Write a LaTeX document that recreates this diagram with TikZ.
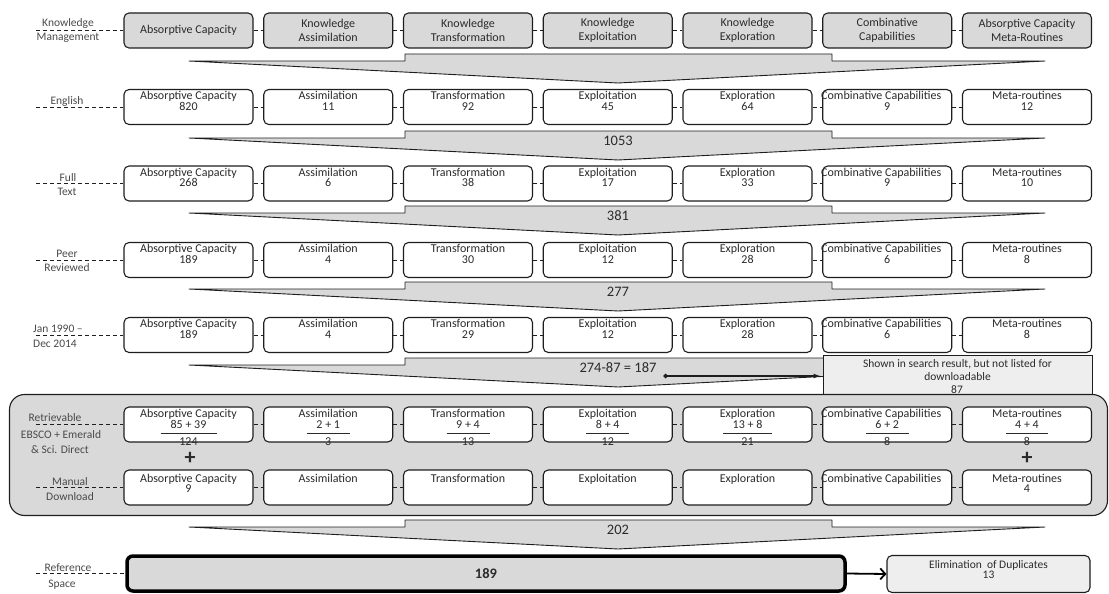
\documentclass[tikz,border=0pt]{standalone}
\usepackage{fontspec}
\setmainfont{Carlito}
\usetikzlibrary{arrows.meta}

\definecolor{boxgray}{HTML}{D9D9D9}
\definecolor{notegray}{HTML}{EEEEEE}
\definecolor{ink}{HTML}{2B2B2B}
\definecolor{sideink}{HTML}{4A4A4A}
\definecolor{edge}{HTML}{1E1E1E}

% one row of stage boxes: #1 row id, #2 centre y, #3 extra text style, #4 title/count list
\newcommand{\stagerow}[4]{%
  \foreach \ttl/\cnt [count=\i, evaluate=\i as \cx using 188.5+139.75*(\i-1)] in {#4} {
    \node[stagebox] (b#1\i) at (\cx,#2) {};
    \node[boxtext,#3] (t#1\i) at (b#1\i.north) {\ttl\\\cnt};
  }
}
% grey funnel band between two rows: #1 name, #2 wing level, #3 count
\newcommand{\funnelband}[3]{%
  \draw[funnel] (189,#2) -- (405,#2) -- (405,{#2-7}) -- (832,{#2-7}) -- (832,#2)
    -- (1045,#2) -- (618,{#2+22}) -- cycle;
  \node[count] (#1) at (618,{#2+3}) {#3};
}

\begin{document}
\begin{tikzpicture}[x=1pt,y=-1pt,
  every node/.style={text=ink},
  stagebox/.style={draw=edge, line width=1.1pt, rounded corners=5pt,
    minimum width=129pt, minimum height=35pt, inner sep=0pt, fill=white},
  headbox/.style={stagebox, fill=boxgray, align=center,
    font=\fontsize{12}{14}\selectfont},
  boxtext/.style={anchor=north, inner sep=0pt, align=center,
    font=\fontsize{12}{10.5}\selectfont, yshift=-2.5pt},
  link/.style={draw=edge, line width=0.8pt, dash pattern=on 4pt off 3pt},
  sidetext/.style={font=\fontsize{11.5}{13}\selectfont, text=sideink,
    inner sep=0pt, anchor=base},
  funnel/.style={fill=boxgray, draw=edge, line width=0.9pt, line join=round},
  count/.style={font=\fontsize{14.5}{16}\selectfont},
  fracbar/.style={draw=ink, line width=0.9pt},
  plus/.style={font=\fontsize{22}{22}\bfseries\selectfont, inner sep=0pt}
]
\useasboundingbox (0,0) rectangle (1109,594);

% ---------- funnels between the filtering stages ----------
\funnelband{f1}{61}{}
\funnelband{f2}{138}{1053}
\funnelband{f3}{213}{381}
\funnelband{f4}{289}{277}
\funnelband{f5}{365}{274-87 = 187}

% ---------- row 1: knowledge management concepts ----------
\foreach \ttl [count=\i, evaluate=\i as \cx using 188.5+139.75*(\i-1)] in
  {Absorptive Capacity, Knowledge\\Assimilation, Knowledge\\Transformation,
   Knowledge\\Exploitation, Knowledge\\Exploration, Combinative\\Capabilities,
   Absorptive Capacity\\Meta-Routines}
  \node[headbox] (b1\i) at (\cx,30.5) {\ttl};

% ---------- rows 2 to 5 ----------
\stagerow{2}{107}{}{Absorptive Capacity/820, Assimilation/11, Transformation/92,
  Exploitation/45, Exploration/64, {\hspace*{-12pt}Combinative Capabilities}/9,
  Meta-routines/12}
\stagerow{3}{183.5}{}{Absorptive Capacity/268, Assimilation/6, Transformation/38,
  Exploitation/17, Exploration/33, {\hspace*{-12pt}Combinative Capabilities}/9,
  Meta-routines/10}
\stagerow{4}{260}{}{Absorptive Capacity/189, Assimilation/4, Transformation/30,
  Exploitation/12, Exploration/28, {\hspace*{-12pt}Combinative Capabilities}/6,
  Meta-routines/8}
\stagerow{5}{335}{}{Absorptive Capacity/189, Assimilation/4, Transformation/29,
  Exploitation/12, Exploration/28, {\hspace*{-12pt}Combinative Capabilities}/6,
  Meta-routines/8}

% ---------- records shown but not downloadable ----------
\node[draw=edge, line width=1pt, fill=notegray, minimum width=269pt,
  minimum height=42pt, inner sep=0pt] (note) at (957.5,376) {};
\node[anchor=north, align=center, inner sep=0pt,
  font=\fontsize{11.5}{12.5}\selectfont] (notetxt) at ([yshift=-5pt]note.north)
  {Shown in search result, but not listed for\\downloadable};
\node[inner sep=0pt, font=\fontsize{11.5}{13}\selectfont] (notecnt) at (957,389.5) {87};
\coordinate (d5) at (663,376);
\draw[draw=edge, line width=1.2pt, {Diamond[length=5pt,width=5pt]}-{Latex[length=7pt,width=5pt]},
  shorten >=2pt] (d5) -- (note.west);

% ---------- retrieval pool ----------
\node[draw=edge, line width=1.1pt, fill=boxgray, rounded corners=15pt,
  minimum width=1098pt, minimum height=121pt, inner sep=0pt] (pool) at (558.5,455) {};

% row 6: database retrieval with sums
\foreach \ttl/\numer/\denom/\hw [count=\i, evaluate=\i as \cx using 188.5+139.75*(\i-1)] in
  {Absorptive Capacity/85 + 39/124/28, Assimilation/2 + 1/3/21.5,
   Transformation/9 + 4/13/21.5, Exploitation/8 + 4/12/21.5,
   Exploration/13 + 8/21/24.5, {\hspace*{-12pt}Combinative Capabilities}/6 + 2/8/21.5,
   Meta-routines/4 + 4/8/21}
{
  \node[stagebox] (b6\i) at (\cx,424.5) {};
  \node[boxtext, yshift=-0.5pt] (t6\i) at (b6\i.north) {\ttl\\[0.5pt]\numer\\[6pt]\denom};
  \draw[fracbar] ([shift={(-\hw,8.5)}]b6\i.center) -- ([shift={(\hw,8.5)}]b6\i.center);
}

% row 7: manual download
\stagerow{7}{487.5}{yshift=-2pt}{Absorptive Capacity/9, Assimilation/{},
  Transformation/{}, Exploitation/{}, Exploration/{},
  {\hspace*{-12pt}Combinative Capabilities}/{}, Meta-routines/4}

\node[plus] (plusl) at (190,458) {+};
\node[plus] (plusr) at (1027,458) {+};

% ---------- final funnel and reference space ----------
\funnelband{f6}{527}{202}

\node[draw=black, line width=3.5pt, fill=boxgray, rounded corners=6pt,
  minimum width=718pt, minimum height=35pt, inner sep=0pt,
  font=\fontsize{14.5}{16}\bfseries\selectfont] (ref) at (486,573.5) {189};
\node[draw=edge, line width=1.1pt, fill=notegray, rounded corners=5pt,
  minimum width=203pt, minimum height=37pt, inner sep=0pt] (elim) at (988.5,574) {};
\node[boxtext, yshift=-3pt, font=\fontsize{11.5}{10}\selectfont] (elimtxt)
  at (elim.north) {Elimination~ of Duplicates\\13};
\draw[draw=black, line width=1.8pt, -{Straight Barb[length=5pt,width=11pt]}]
  (ref.east) -- (elim.west);

% ---------- connectors between neighbouring boxes of each row ----------
\foreach \r in {1,...,7}
  \foreach \cur [remember=\cur as \prev (initially 1)] in {2,...,7}
    \draw[link] (b\r\prev.east) -- (b\r\cur.west);

% ---------- stage labels on the left ----------
\foreach \r/\y in {1/30.5, 2/107, 3/183.5, 4/260, 5/335, 6/424.5, 7/487.5}
{
  \coordinate (s\r) at (36,\y);
  \draw[link] (s\r) -- (b\r1.west);
}
\coordinate (s8) at (36,573.5);
\draw[link] (s8) -- (ref.west);

\node[sidetext] (k1) at (68,27) {Knowledge};
\node[sidetext] (k2) at (68,41) {Management};
\node[sidetext] (e1) at (67,104) {English};
\node[sidetext] (u1) at (68,181) {Full};
\node[sidetext] (u2) at (67,195) {Text};
\node[sidetext] (p1) at (67,257) {Peer};
\node[sidetext] (p2) at (67,271) {Reviewed};
\node[sidetext, anchor=base west] (j1) at (33,332) {Jan 1990 –};
\node[sidetext, anchor=base west] (j2) at (33,347) {Dec 2014};
\node[sidetext] (v1) at (55,421) {Retrievable};
\node[sidetext] (v2) at (61,438) {EBSCO + Emerald};
\node[sidetext] (v3) at (60,453) {\& Sci. Direct};
\node[sidetext] (m1) at (70,485) {Manual};
\node[sidetext] (m2) at (70,500) {Download};
\node[sidetext] (q1) at (68,571) {Reference};
\node[sidetext] (q2) at (62,587) {Space};
\end{tikzpicture}
\end{document}
